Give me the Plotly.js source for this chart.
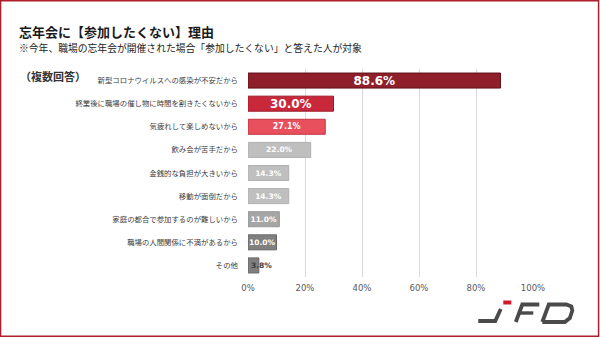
<!DOCTYPE html>
<html><head><meta charset="utf-8">
<script src="https://cdn.plot.ly/plotly-3.0.1.min.js"></script>
<style>html,body{margin:0;padding:0;background:#fff;}#chart{width:600px;height:338px;}</style>
</head><body><div id="chart"></div>
<script>
const categories = [
  "新型コロナウイルスへの感染が不安だから",
  "終業後に職場の催し物に時間を割きたくないから",
  "気疲れして楽しめないから",
  "飲み会が苦手だから",
  "金銭的な負担が大きいから",
  "移動が面倒だから",
  "家庭の都合で参加するのが難しいから",
  "職場の人間関係に不満があるから",
  "その他"
];
const values = [88.6, 30.0, 27.1, 22.0, 14.3, 14.3, 11.0, 10.0, 3.8];
const xTicks = [0, 20, 40, 60, 80, 100];
const titleText = "忘年会に【参加したくない】理由";
const subtitleText = "※今年、職場の忘年会が開催された場合「参加したくない」と答えた人が対象";
const noteText = "（複数回答）";

const fills = ["#8E1F2B","#C8283A","#E8505D","#BFBFBF","#BFBFBF","#BFBFBF","#A6A6A6","#808080","#7F7F7F"];
const lines = ["#5E1119","#9A1A27","#C23542","#B0B0B0","#B0B0B0","#B0B0B0","#969696","#666666","#666666"];
const tsize = [12,12,8,7.5,7.5,7.5,7.5,7.5,7.5];

const W=600,H=338, L=248, R=532.7, T=69, B=277;
const px = x => (x-L)/(R-L);
const py = y => (B-y)/(B-T);

const JP = '"Noto Sans CJK JP", "Noto Sans", sans-serif';

const trace = {
  type:'bar', orientation:'h',
  x: values, y: categories,
  text: values.map((v,i)=> i<values.length-1 ? v.toFixed(1)+'%' : ''),
  textposition:'inside', insidetextanchor:'middle',
  textfont:{family:'Verdana, "DejaVu Sans", sans-serif', size:tsize, color:'#ffffff', weight:'bold'},
  constraintext:'none',
  marker:{color:fills, line:{color:lines, width:1}},
  hoverinfo:'none', cliponaxis:false
};

function seg(x0,y0,x1,y1,color,w){
  return {type:'line', xref:'paper', yref:'paper', x0:px(x0), y0:py(y0), x1:px(x1), y1:py(y1),
          line:{color:color, width:w}, layer:'above'};
}
function path(pts,color,w){
  let d = pts.map((p,i)=> (i? 'L':'M') + px(p[0]) + ',' + py(p[1])).join(' ');
  return {type:'path', xref:'paper', yref:'paper', path:d, line:{color:color,width:w}, layer:'above'};
}
const gray='#4A4A4A';
const shapes = [
  // frame
  {type:'rect', xref:'paper', yref:'paper', x0:px(0.8), y0:py(0.8), x1:px(598.2), y1:py(336.2),
   line:{color:'#B01E2C', width:1.5}, layer:'above'},
  // logo J
  path([[478,321],[495,321],[500.5,309]], gray, 3.8),
  seg(503,302.5,511,302.5,'#D3182B',4),
  // F
  path([[515.5,322],[522,304.5],[539,304.5]], gray, 3.8),
  seg(518.5,313,533,313, gray, 3.4),
  // D
  path([[542,322],[548.5,304.5],[566,304.5],[571,306.5],[572,310.5],[569.5,318],[564.5,322],[542,322]], gray, 3.8)
];

const annotations = [
  {text:titleText, x:px(17), y:py(32), xref:'paper', yref:'paper', xanchor:'left', yanchor:'middle', showarrow:false,
   font:{family:JP, size:13, color:'#1a1a1a', weight:'bold'}},
  {text:subtitleText, x:px(17), y:py(48), xref:'paper', yref:'paper', xanchor:'left', yanchor:'middle', showarrow:false,
   font:{family:JP, size:9.8, color:'#222222'}},
  {text:noteText, x:px(18), y:py(76), xref:'paper', yref:'paper', xanchor:'left', yanchor:'middle', showarrow:false,
   font:{family:JP, size:11, color:'#333333', weight:'bold'}},
  {text:values[8].toFixed(1)+'%', x:values[8], y:categories[8], xref:'x', yref:'y', xanchor:'center', yanchor:'middle',
   xshift:3, showarrow:false, font:{family:'Verdana, "DejaVu Sans", sans-serif', size:7.5, color:'#404040', weight:'bold'}}
];

const layout = {
  width:W, height:H,
  margin:{l:L, r:W-R, t:T, b:H-B, pad:0},
  paper_bgcolor:'#ffffff', plot_bgcolor:'#ffffff',
  showlegend:false, bargap:0.35,
  xaxis:{range:[0,100], tickvals:xTicks, ticktext:xTicks.map(v=>v+'%'), showgrid:true, gridcolor:'#D9D9D9', gridwidth:1,
         zeroline:false, showline:false, ticks:'', ticklabelstandoff:4,
         tickfont:{family:'Verdana, "DejaVu Sans", sans-serif', size:8.5, color:'#595959'}, fixedrange:true},
  yaxis:{autorange:'reversed', type:'category', showgrid:false, zeroline:false, showline:false, ticks:'',
         ticklabelstandoff:9, tickfont:{family:JP, size:7.4, color:'#404040'}, fixedrange:true},
  shapes:shapes, annotations:annotations,
  font:{family:JP}
};

Plotly.newPlot('chart',[trace],layout,{staticPlot:true, displayModeBar:false});
</script></body></html>
